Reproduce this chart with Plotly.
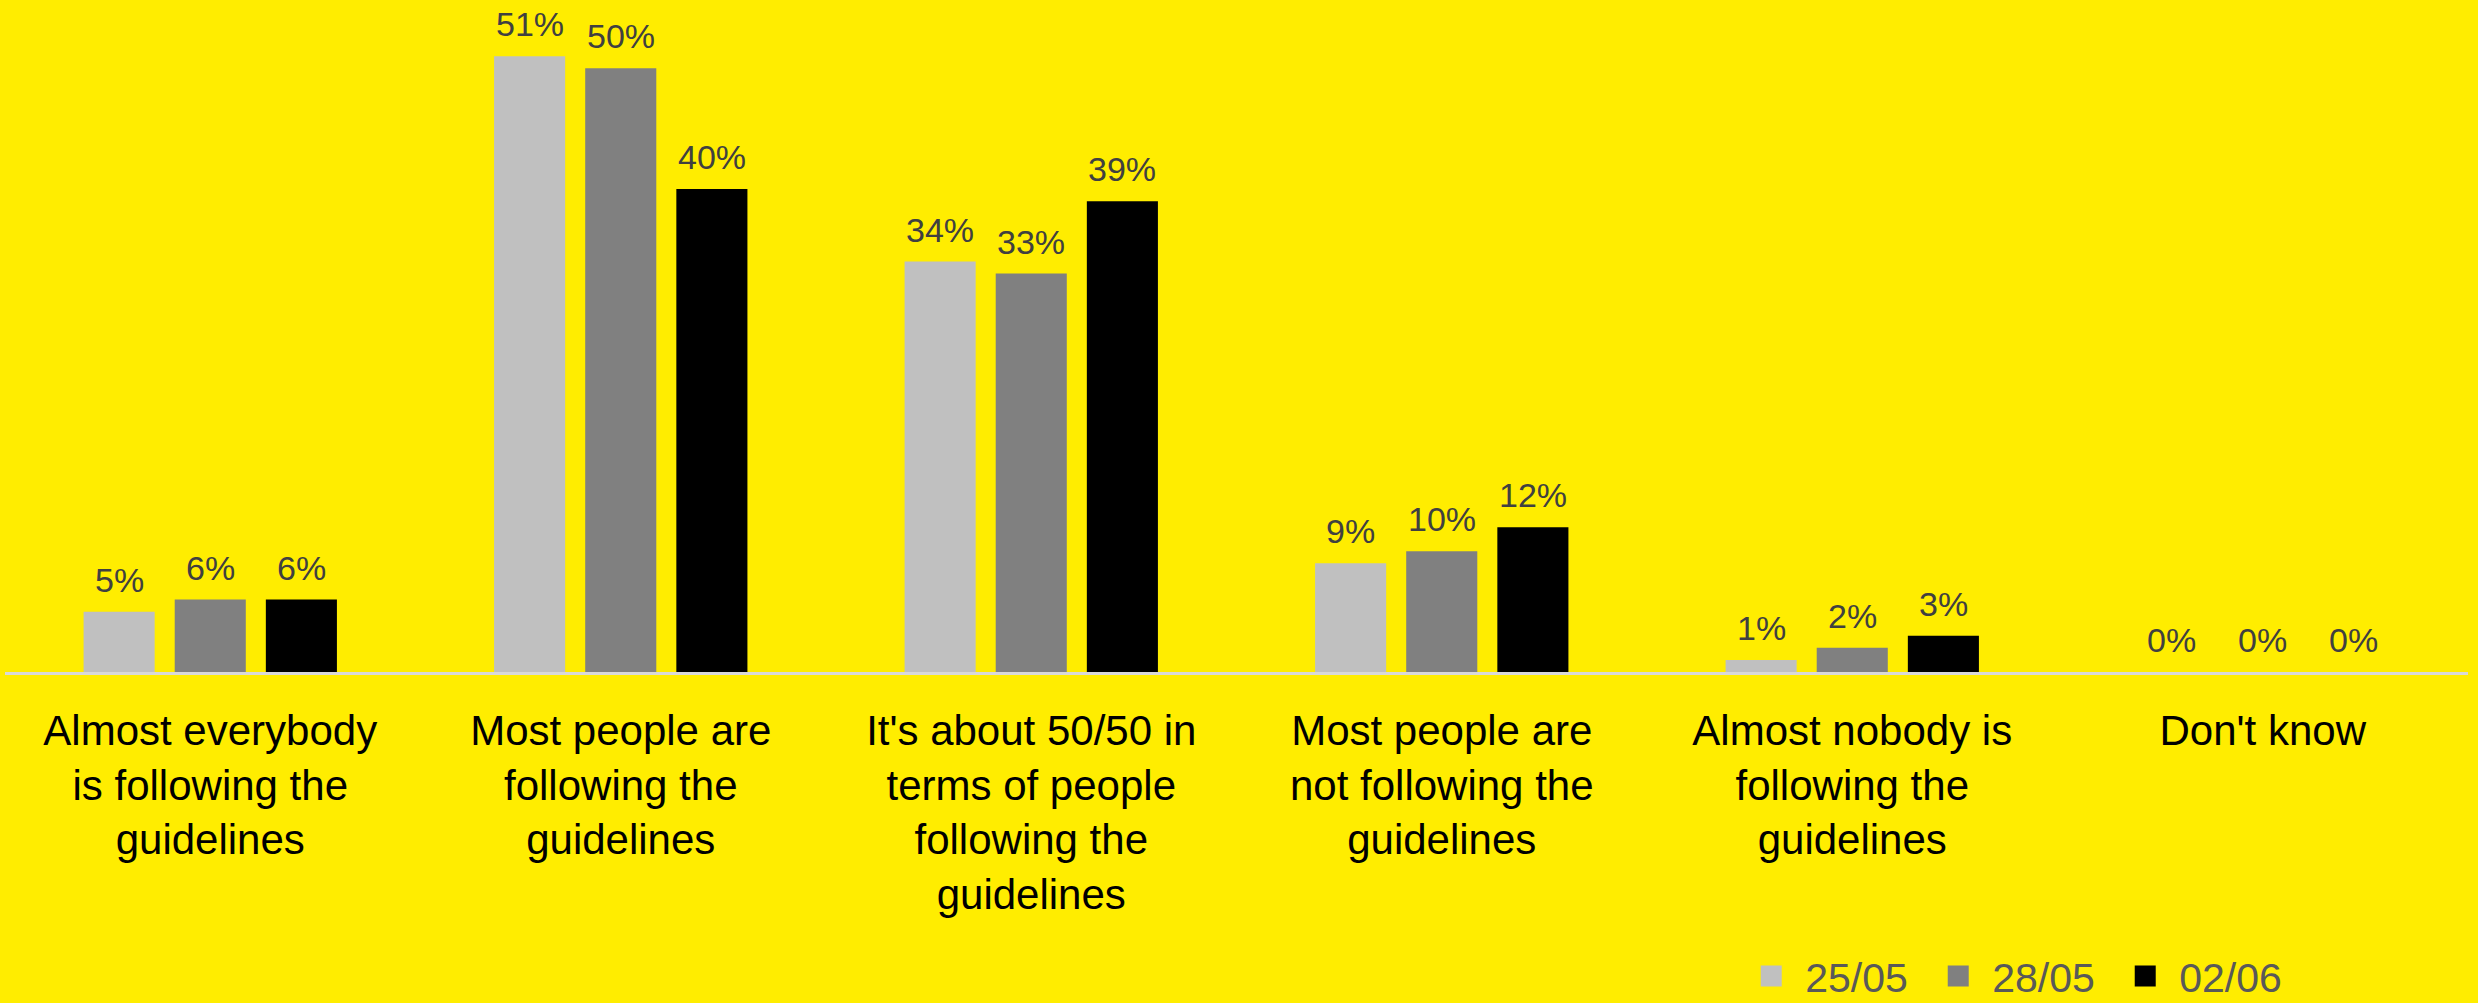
import plotly.graph_objects as go

# Survey answers (x-axis categories)
categories = [
    "Almost everybody<br>is following the<br>guidelines",
    "Most people are<br>following the<br>guidelines",
    "It's about 50/50 in<br>terms of people<br>following the<br>guidelines",
    "Most people are<br>not following the<br>guidelines",
    "Almost nobody is<br>following the<br>guidelines",
    "Don't know",
]

# Share of respondents (%) per survey wave
wave_names = ["25/05", "28/05", "02/06"]
wave_2505 = [5, 51, 34, 9, 1, 0]
wave_2805 = [6, 50, 33, 10, 2, 0]
wave_0206 = [6, 40, 39, 12, 3, 0]
waves = [wave_2505, wave_2805, wave_0206]

bar_colors = ["#C0C0C0", "#808080", "#000000"]
background = "#FFED00"
font_family = "Arial"

WIDTH, HEIGHT = 2478, 1003
MARGIN = dict(l=5, r=10, t=8, b=331, autoexpand=False)
BARGAP, BARGROUPGAP = 0.334, 0.22

fig = go.Figure()
for name, values, color in zip(wave_names, waves, bar_colors):
    fig.add_trace(
        go.Bar(
            name=name,
            x=categories,
            y=values,
            legendgroup=name,
            showlegend=False,
            marker=dict(color=color, line=dict(width=0)),
            hoverinfo="skip",
        )
    )
    # legend entry with a larger square swatch, toggling the bars of the same group
    fig.add_trace(
        go.Scatter(
            name=name,
            x=[None],
            y=[None],
            mode="markers",
            legendgroup=name,
            showlegend=True,
            marker=dict(symbol="square", size=16, color=color,
                        line=dict(width=5, color=color)),
            hoverinfo="skip",
        )
    )

# Value labels above each bar, shifted sideways to sit over its bar in the group
plot_w = WIDTH - MARGIN["l"] - MARGIN["r"]
slot = plot_w / len(categories) * (1 - BARGAP) / len(waves)
for i, values in enumerate(waves):
    offset = (i - (len(waves) - 1) / 2) * slot
    for cat, v in zip(categories, values):
        fig.add_annotation(
            x=cat,
            y=v,
            xref="x",
            yref="y",
            text=f"{v}%",
            showarrow=False,
            xanchor="center",
            yanchor="bottom",
            xshift=offset,
            yshift=11,
            font=dict(family=font_family, size=34, color="#404040"),
        )

fig.update_layout(
    width=WIDTH,
    height=HEIGHT,
    margin=MARGIN,
    paper_bgcolor=background,
    plot_bgcolor=background,
    barmode="group",
    bargap=BARGAP,
    bargroupgap=BARGROUPGAP,
    font=dict(family=font_family),
    showlegend=True,
    legend=dict(
        orientation="h",
        x=0.7033,
        xanchor="left",
        y=-0.408,
        yanchor="top",
        itemwidth=58,
        entrywidth=114,
        font=dict(family=font_family, size=41, color="#595959"),
        bgcolor="rgba(0,0,0,0)",
        traceorder="normal",
    ),
    xaxis=dict(
        showline=True,
        linecolor="#D9D9D9",
        linewidth=2.5,
        ticks="",
        showgrid=False,
        automargin=False,
        ticklabelstandoff=20,
        tickfont=dict(family=font_family, size=42, color="#000000"),
        fixedrange=True,
    ),
    yaxis=dict(
        range=[0, 55],
        visible=False,
        showgrid=False,
        zeroline=False,
        automargin=False,
        fixedrange=True,
    ),
)

fig.write_html("out.html")
